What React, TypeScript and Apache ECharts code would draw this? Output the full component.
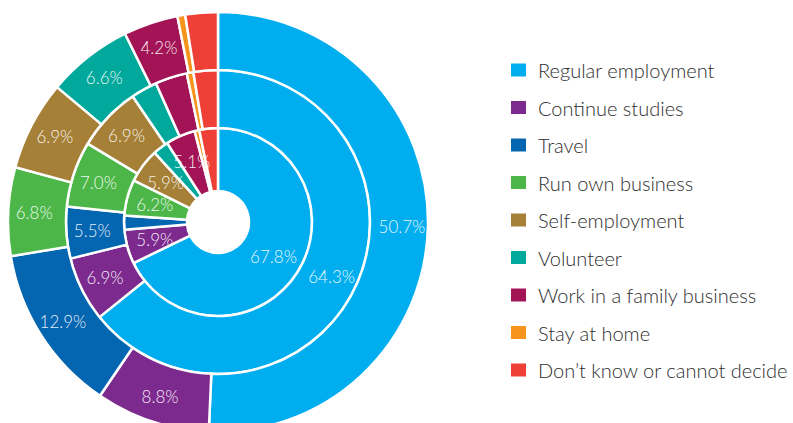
import React, { useEffect, useRef } from "react";
import * as echarts from "echarts";

const categories = [
  "Regular employment",
  "Continue studies",
  "Travel",
  "Run own business",
  "Self-employment",
  "Volunteer",
  "Work in a family business",
  "Stay at home",
  "Don\u2019t know or cannot decide",
];

const colors = [
  "#00AEEF",
  "#7D2A8E",
  "#0465B0",
  "#4CB748",
  "#A58036",
  "#00A99B",
  "#A31456",
  "#F7941D",
  "#EE4036",
];

const innerValues = [67.8, 5.9, 2.4, 6.2, 5.9, 2.7, 5.1, 0.8, 3.2];
const middleValues = [64.3, 6.9, 5.5, 7.0, 6.9, 2.8, 3.4, 0.7, 2.6];
const outerValues = [50.7, 8.8, 12.9, 6.8, 6.9, 6.6, 4.2, 0.6, 2.5];

const LABEL_MIN = 4;

export default function App() {
  const ref = useRef<HTMLDivElement>(null);

  useEffect(() => {
    document.body.style.margin = "0";
    if (!ref.current) return;
    const chart = echarts.init(ref.current, undefined, { renderer: "svg" });

    const makeSeries = (name: string, values: number[], radius: [number, number]) => ({
      name,
      type: "pie",
      center: [218, 222],
      radius,
      startAngle: 90,
      clockwise: true,
      avoidLabelOverlap: false,
      itemStyle: { borderColor: "#ffffff", borderWidth: 2.5 },
      label: {
        show: true,
        position: "inside",
        color: "rgba(255,255,255,0.92)",
        fontFamily: "Lato",
        fontWeight: 300,
        fontSize: 17,
        formatter: (p: any) => (p.value >= LABEL_MIN ? p.value.toFixed(1) + "%" : ""),
      },
      labelLine: { show: false },
      emphasis: { disabled: true },
      data: categories.map((c, i) => ({
        name: c,
        value: values[i],
        itemStyle: { color: colors[i] },
      })),
    });

    chart.setOption({
      animation: false,
      color: colors,
      legend: {
        orient: "vertical",
        left: 504,
        top: 55,
        icon: "rect",
        itemWidth: 17,
        itemHeight: 15,
        itemGap: 17.5,
        selectedMode: false,
        data: categories,
        textStyle: {
          fontFamily: "Lato",
          fontWeight: 300,
          fontSize: 20,
          color: "#2e2e2e",
          lineHeight: 20,
          padding: [0, 0, 0, 6],
        },
      },
      series: [
        makeSeries("Inner ring", innerValues, [31, 94]),
        makeSeries("Middle ring", middleValues, [94, 152]),
        makeSeries("Outer ring", outerValues, [152, 210]),
      ],
    });

    return () => chart.dispose();
  }, []);

  return <div ref={ref} style={{ width: 793, height: 423 }} />;
}
